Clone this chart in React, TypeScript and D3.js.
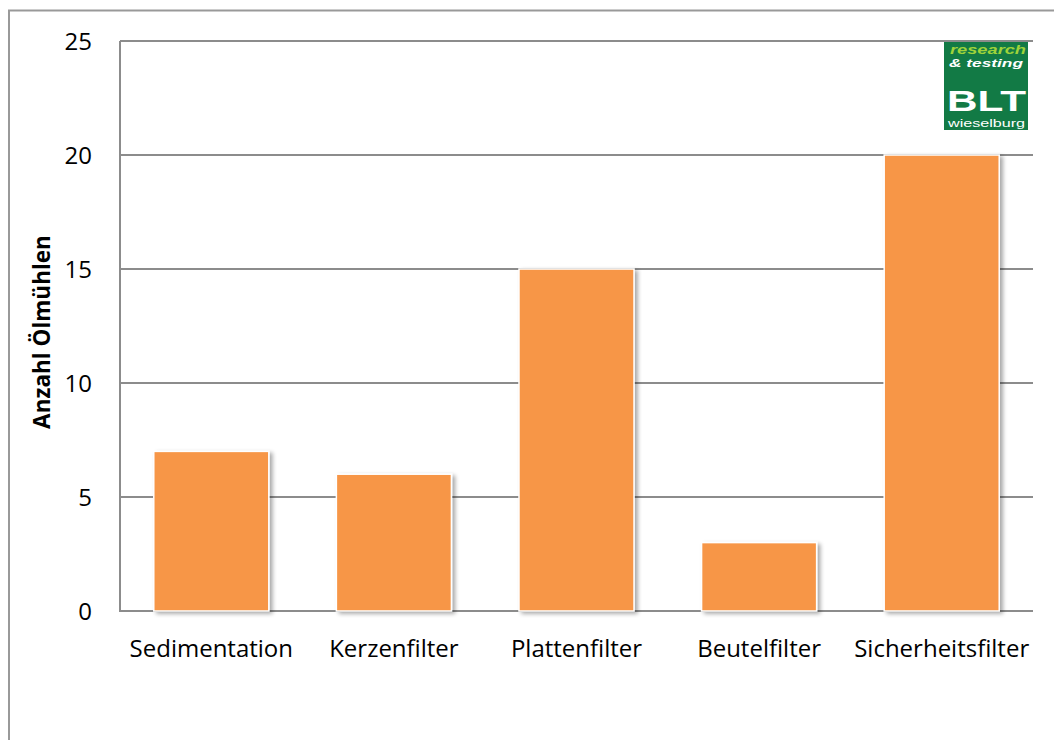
import React from "react";
import * as d3 from "d3";

const categories = ["Sedimentation", "Kerzenfilter", "Plattenfilter", "Beutelfilter", "Sicherheitsfilter"];
const values = [7, 6, 15, 3, 20];
const yTicks = [0, 5, 10, 15, 20, 25];
const yLabel = "Anzahl Ölmühlen";

export default function App() {
  const W = 1054, H = 740;
  const left = 120, right = 1033, top = 41, bottom = 611;
  const x = d3.scaleBand<string>().domain(categories).range([left, right]).paddingInner(0.37).paddingOuter(0.185);
  const y = d3.scaleLinear().domain([0, 25]).range([bottom, top]);
  const font = "'Open Sans', 'Liberation Sans', sans-serif";
  const logoFont = "'Liberation Sans', Arial, sans-serif";
  return (
    <svg width={W} height={H} style={{ position: "absolute", left: 0, top: 0 }}>
      <defs>
        <filter id="sh" x="-10%" y="-10%" width="130%" height="130%">
          <feGaussianBlur in="SourceAlpha" stdDeviation="2" />
          <feOffset dx="3" dy="2" result="b" />
          <feComponentTransfer><feFuncA type="linear" slope="0.35" /></feComponentTransfer>
          <feMerge><feMergeNode /><feMergeNode in="SourceGraphic" /></feMerge>
        </filter>
      </defs>
      <rect x={0} y={0} width={W} height={H} fill="#fff" />
      <path d={`M9,${H} V10.5 H${W}`} fill="none" stroke="#999" strokeWidth={2} />
      {yTicks.map((t) => (
        <g key={t}>
          <line x1={left} x2={right} y1={y(t)} y2={y(t)} stroke="#8c8c8c" strokeWidth={2} />
          <text x={92} y={y(t)} dy="0.36em" textAnchor="end" fontFamily={font} fontSize={24} fill="#000">{t}</text>
        </g>
      ))}
      <line x1={left} x2={left} y1={top} y2={bottom + 1} stroke="#8c8c8c" strokeWidth={2} />
      {categories.map((c, i) => (
        <rect key={c} x={x(c)!} y={y(values[i])} width={x.bandwidth()} height={bottom - y(values[i])}
          fill="#F79646" stroke="#fff" strokeWidth={1.5} filter="url(#sh)" />
      ))}
      {categories.map((c) => (
        <text key={c} x={x(c)! + x.bandwidth() / 2} y={657} textAnchor="middle" fontFamily={font} fontSize={24} fill="#000">{c}</text>
      ))}
      <text transform={`translate(50,332) rotate(-90)`} textAnchor="middle" fontFamily={font} fontWeight="bold" fontSize={22.5} fill="#000">{yLabel}</text>
      <g>
        <rect x={944} y={42} width={84} height={88} fill="#127a45" />
        <text x={950} y={54} fontFamily={logoFont} fontStyle="italic" fontWeight="bold" fontSize={12} fill="#9fd33a" textLength={76} lengthAdjust="spacingAndGlyphs">research</text>
        <text x={949} y={67} fontFamily={logoFont} fontStyle="italic" fontWeight="bold" fontSize={11.5} fill="#fff" textLength={74} lengthAdjust="spacingAndGlyphs">&amp; testing</text>
        <text x={947} y={111} fontFamily={logoFont} fontWeight="bold" fontSize={29} fill="#fff" textLength={79} lengthAdjust="spacingAndGlyphs">BLT</text>
        <text x={948} y={127} fontFamily={logoFont} fontSize={11} fill="#fff" textLength={77} lengthAdjust="spacingAndGlyphs">wieselburg</text>
      </g>
    </svg>
  );
}
